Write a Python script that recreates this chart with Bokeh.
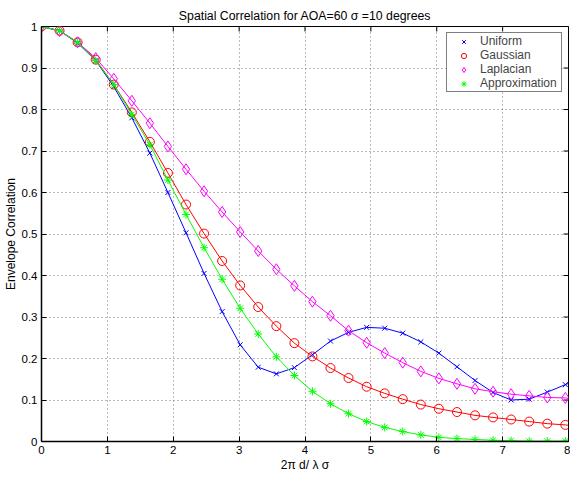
import math
from bokeh.plotting import figure
from bokeh.models import Range1d, FixedTicker, Legend, LegendItem
from bokeh.embed import file_html
from bokeh.resources import INLINE

# marker positions (2*pi*d/lambda*sigma)
x = [0.000, 0.274, 0.548, 0.823, 1.097, 1.371, 1.645, 1.919, 2.194, 2.468,
     2.742, 3.016, 3.290, 3.565, 3.839, 4.113, 4.387, 4.661, 4.936, 5.210,
     5.484, 5.758, 6.032, 6.307, 6.581, 6.855, 7.129, 7.403, 7.678, 7.952]

uniform = [1.000, 0.990, 0.960, 0.918, 0.855, 0.780, 0.695, 0.600, 0.503, 0.405,
           0.313, 0.233, 0.179, 0.163, 0.178, 0.209, 0.242, 0.263, 0.275, 0.273,
           0.261, 0.240, 0.213, 0.180, 0.147, 0.118, 0.100, 0.102, 0.119, 0.137]

gaussian = [1.000, 0.990, 0.962, 0.920, 0.860, 0.793, 0.722, 0.647, 0.571, 0.501,
            0.435, 0.376, 0.324, 0.278, 0.237, 0.205, 0.177, 0.153, 0.132, 0.116,
            0.102, 0.089, 0.079, 0.071, 0.063, 0.058, 0.053, 0.048, 0.043, 0.040]

laplacian = [1.000, 0.989, 0.962, 0.924, 0.874, 0.821, 0.767, 0.711, 0.656, 0.603,
             0.553, 0.505, 0.459, 0.415, 0.375, 0.337, 0.303, 0.267, 0.238, 0.213,
             0.190, 0.169, 0.152, 0.139, 0.127, 0.120, 0.114, 0.110, 0.106, 0.105]

approx = [1.000, 0.990, 0.962, 0.918, 0.860, 0.788, 0.715, 0.630, 0.547, 0.467,
          0.391, 0.321, 0.259, 0.204, 0.159, 0.121, 0.091, 0.067, 0.048, 0.034,
          0.024, 0.016, 0.010, 0.007, 0.005, 0.003, 0.002, 0.001, 0.001, 0.001]

# curve values at the right edge (x = 8)
x_end = 8.0
end_vals = {"uniform": 0.140, "gaussian": 0.039, "laplacian": 0.104, "approx": 0.001}

x_ticks = [0, 1, 2, 3, 4, 5, 6, 7, 8]
y_ticks = [0, 0.1, 0.2, 0.3, 0.4, 0.5, 0.6, 0.7, 0.8, 0.9, 1.0]
y_tick_labels = {0: "0", 0.1: "0.1", 0.2: "0.2", 0.3: "0.3", 0.4: "0.4", 0.5: "0.5",
                 0.6: "0.6", 0.7: "0.7", 0.8: "0.8", 0.9: "0.9", 1.0: "1"}

FONT = "Liberation Sans"
X_MIN, X_MAX, Y_MIN, Y_MAX = 0, 8, 0, 1

p = figure(width=570, height=480, output_backend="svg", toolbar_location=None,
           x_range=Range1d(X_MIN, X_MAX), y_range=Range1d(Y_MIN, Y_MAX),
           min_border_left=41, min_border_right=2, min_border_top=26, min_border_bottom=39)

p.title.text = "Spatial Correlation for AOA=60 \u03c3 =10 degrees"
p.title.align = "center"
p.title.text_font = FONT
p.title.text_font_size = "12.3px"
p.title.text_font_style = "normal"
p.title.text_color = "black"
p.title.standoff = 7
p.title.offset = 0

p.outline_line_color = "black"
p.outline_line_width = 1
p.background_fill_color = "white"

for ax in (p.xaxis[0], p.yaxis[0]):
    ax.major_tick_in = 5
    ax.major_tick_out = 0
    ax.minor_tick_line_color = None
    ax.axis_line_color = "black"
    ax.axis_line_width = 1.5
    ax.major_tick_line_color = "black"
    ax.major_label_text_font = FONT
    ax.major_label_text_font_size = "11.5px"
    ax.major_label_text_color = "black"
    ax.axis_label_text_font = FONT
    ax.axis_label_text_font_size = "12px"
    ax.axis_label_text_font_style = "normal"
    ax.axis_label_text_color = "black"
    ax.major_label_standoff = 4

p.xaxis.ticker = FixedTicker(ticks=x_ticks)
p.yaxis.ticker = FixedTicker(ticks=y_ticks)
p.yaxis.major_label_overrides = y_tick_labels
p.xaxis.axis_label = "2\u03c0 d/ \u03bb \u03c3"
p.yaxis.axis_label = "Envelope Correlation"
p.xaxis.axis_label_standoff = 1
p.yaxis.axis_label_standoff = 1

p.xgrid.ticker = FixedTicker(ticks=x_ticks)
p.ygrid.ticker = FixedTicker(ticks=y_ticks)
p.grid.grid_line_color = "#777777"
p.grid.grid_line_dash = "1 3"
p.grid.grid_line_width = 1

# inward ticks on the top and right sides of the box (outer half is clipped by the frame)
p.scatter(x_ticks, [Y_MAX] * len(x_ticks), marker="dash", angle=math.pi / 2, size=10,
          line_color="black", line_width=1)
p.scatter([X_MAX] * len(y_ticks), y_ticks, marker="dash", size=10,
          line_color="black", line_width=1)

series = [
    ("Uniform", uniform, "uniform", "#0000ff", "x", 7),
    ("Gaussian", gaussian, "gaussian", "#ff0000", "circle", 9),
    ("Laplacian", laplacian, "laplacian", "#ff00ff", "diamond", 11),
    ("Approximation", approx, "approx", "#00ff00", "asterisk", 8),
]

items = []
for name, ys, key, col, mk, sz in series:
    p.line(x + [x_end], ys + [end_vals[key]], line_color=col, line_width=1)
    r = p.scatter(x, ys, marker=mk, size=sz, line_color=col, fill_color=None, line_width=1)
    items.append(LegendItem(label=name, renderers=[r]))

legend = Legend(items=items, location="top_right", margin=6, padding=1, spacing=0,
                label_height=13, glyph_height=13, glyph_width=31, label_standoff=1,
                label_width=80,
                label_text_font=FONT, label_text_font_size="12px",
                border_line_color="black", border_line_width=1,
                background_fill_color="white", background_fill_alpha=1)
p.add_layout(legend)

open("out.html", "w").write(file_html(p, INLINE))
